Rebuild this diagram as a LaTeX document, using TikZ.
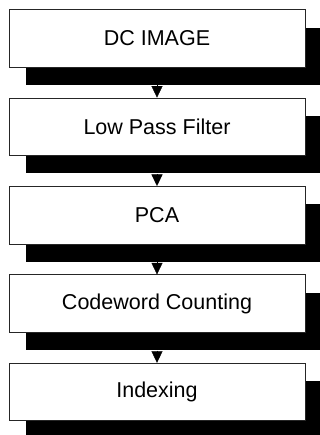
\documentclass[tikz,border=0pt]{standalone}
\usepackage{fontspec}
\setmainfont{Liberation Sans}
\usetikzlibrary{arrows.meta,calc}

\tikzset{
  stagebox/.style={draw=black!85, line width=0.7pt, fill=white,
    minimum width=296pt, minimum height=57.5pt, inner sep=0pt,
    font=\fontsize{21.5}{25}\selectfont},
  shadowfill/.style={fill=black},
  flowtip/.style={line width=0.3pt, -{Triangle[length=11.5pt,width=11pt]}}
}

\begin{document}
\begin{tikzpicture}[x=1pt,y=-1pt]
  \clip (0,0) rectangle (320,435);
  \fill[white] (0,0) rectangle (320,435);

  % stage boxes, top to bottom
  \foreach \name/\label [count=\i from 0] in
      {dc/DC IMAGE, lpf/Low Pass Filter, pca/PCA, cwc/Codeword Counting, idx/Indexing} {
    \coordinate (\name-c) at (157, 38.3 + 88.4*\i);
    % offset black shadow behind each box
    \fill[shadowfill] ($(\name-c)+(-148+17,-28.75+18)$) rectangle ($(\name-c)+(148+17,28.75+18)$);
    \node[stagebox] (\name) at (\name-c) {\label};
    \coordinate (\name-out) at ($(\name.south)+(0,18)$);
  }

  % connectors between successive stages
  \draw[flowtip] (dc-out) -- (lpf.north);
  \draw[flowtip] (lpf-out) -- (pca.north);
  \draw[flowtip] (pca-out) -- (cwc.north);
  \draw[flowtip] (cwc-out) -- (idx.north);
\end{tikzpicture}
\end{document}
